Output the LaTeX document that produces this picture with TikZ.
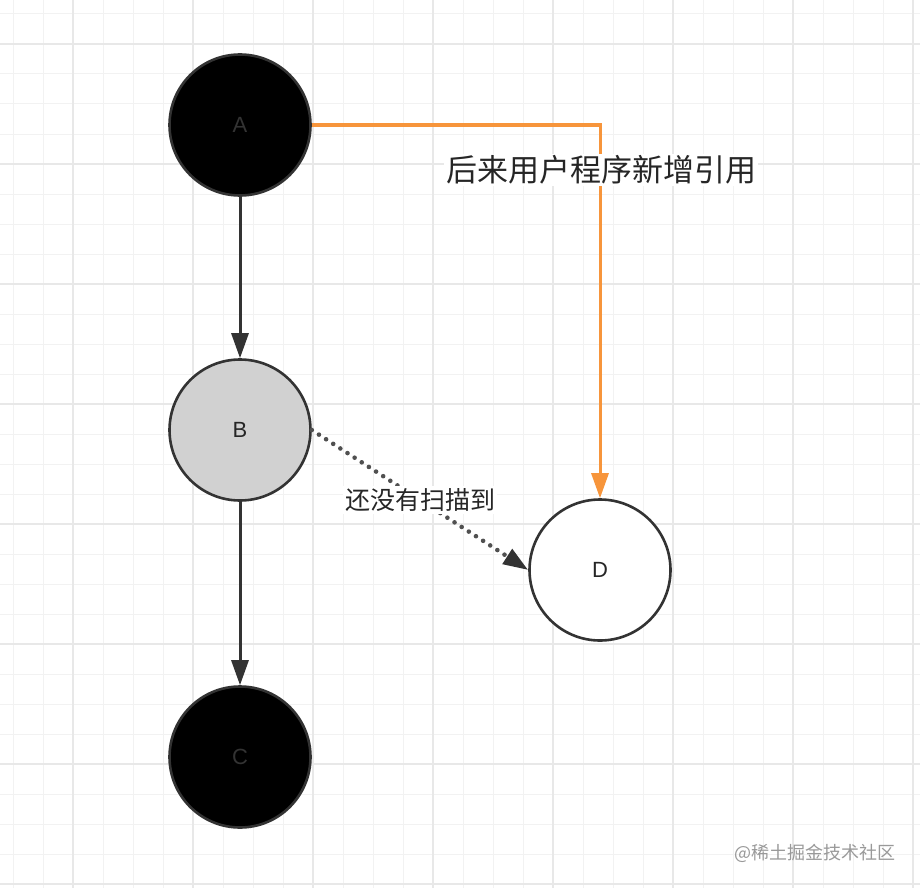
\documentclass[tikz,border=0pt]{standalone}
\usepackage{fontspec}
\setmainfont{Liberation Sans}
\newfontfamily\cjk{Noto Sans CJK SC}
\usetikzlibrary{arrows.meta}
\definecolor{edgegray}{HTML}{333333}
\definecolor{dotgray}{HTML}{505050}
\definecolor{orangeline}{HTML}{F7953B}
\definecolor{gridminor}{HTML}{F2F2F2}
\definecolor{gridmajor}{HTML}{E8E8E8}
\tikzset{
  x=1pt, y=-1pt,
  vertex/.style={circle, draw=edgegray, line width=2.6pt, minimum size=141pt, inner sep=0pt, font=\fontsize{22}{24}\selectfont},
  conn/.style={draw=edgegray, line width=3pt, -{Triangle[length=25pt,width=17pt]}},
  lbl/.style={fill=white, inner sep=2pt, text=black!85},
}
\begin{document}
\begin{tikzpicture}
\useasboundingbox (0,0) rectangle (920,888);
\fill[white] (0,0) rectangle (920,888);
% grid
\foreach \i in {0,...,30} {
  \pgfmathsetmacro{\xx}{13+30*\i}
  \pgfmathsetmacro{\yy}{14+30*\i}
  \draw[gridminor, line width=1pt] (\xx,0) -- (\xx,888);
  \draw[gridminor, line width=1pt] (0,\yy) -- (920,\yy);
}
\foreach \i in {0,...,8} {
  \pgfmathsetmacro{\xx}{73+120*\i}
  \pgfmathsetmacro{\yy}{44+120*\i}
  \draw[gridmajor, line width=1.2pt] (\xx,0) -- (\xx,888);
  \draw[gridmajor, line width=1.2pt] (0,\yy) -- (920,\yy);
}
% nodes
\node[vertex, fill=black, text=edgegray] (A) at (240,125) {A};
\node[vertex, fill=black!18, text=black!85] (B) at (240,430) {B};
\node[vertex, fill=black, text=edgegray] (C) at (240,757) {C};
\node[vertex, fill=white, text=black!85] (D) at (600,570) {D};
% connectors
\draw[conn] (A) -- (B);
\draw[conn] (B) -- (C);
\draw[draw=orangeline, line width=3pt, -{Triangle[length=25pt,width=17pt]}] (A.east) -| (D.north);
\node[lbl, font=\cjk\fontsize{31}{33}\selectfont] (lab1) at (601,170) {后来用户程序新增引用};
\draw[draw=dotgray, line width=4.6pt, dash pattern=on 0pt off 8.5pt, line cap=round, -{Triangle[length=25pt,width=17pt,line cap=butt,color=edgegray]}] (B.east) -- (D.west)
  node[midway, lbl, font=\cjk\fontsize{25}{27}\selectfont] (lab2) {还没有扫描到};
% watermark
\node[text=black!40, font=\cjk\fontsize{18}{20}\selectfont] (wm) at (815,853) {@稀土掘金技术社区};
\end{tikzpicture}
\end{document}
